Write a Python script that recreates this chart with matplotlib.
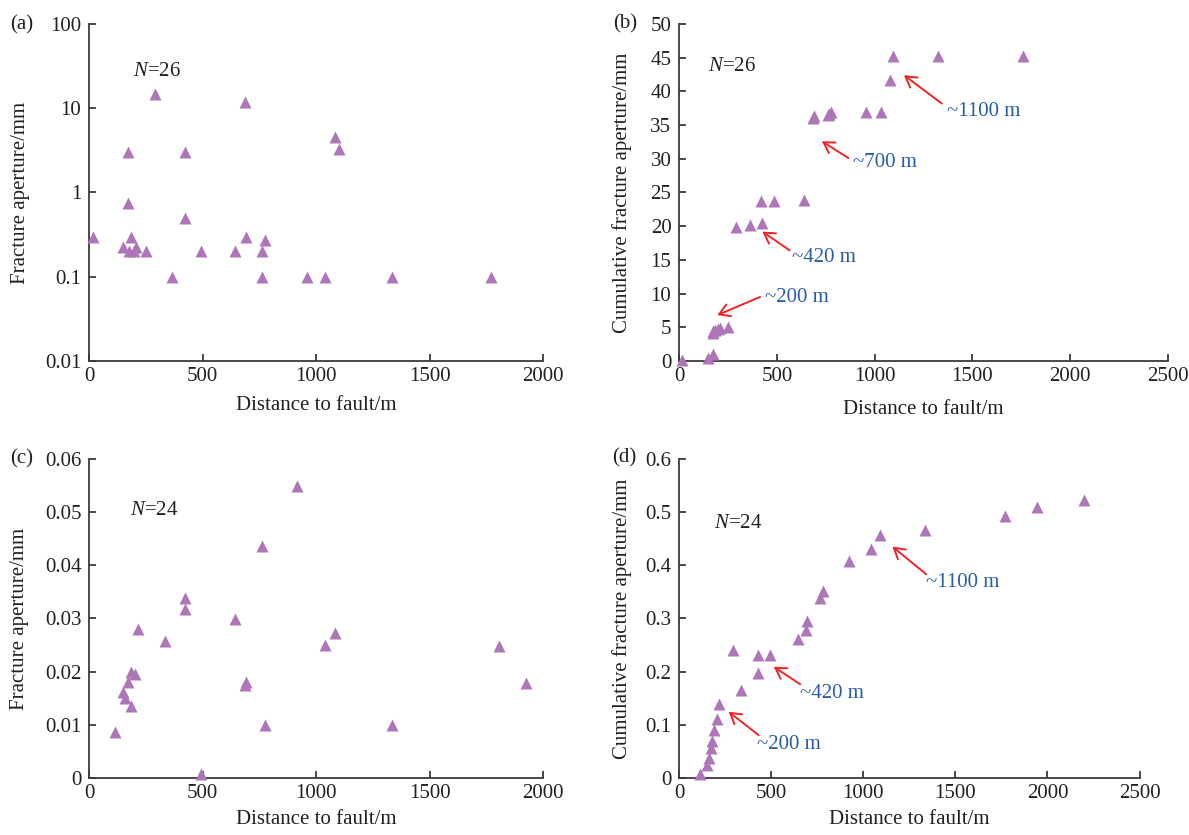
import numpy as np
import matplotlib
matplotlib.use("Agg")
import matplotlib.pyplot as plt
from matplotlib.ticker import FixedLocator, FixedFormatter

plt.rcParams['font.family'] = ['Liberation Serif', 'DejaVu Serif']
plt.rcParams['mathtext.fontset'] = 'custom'
plt.rcParams['mathtext.it'] = 'Liberation Serif:italic'
plt.rcParams['mathtext.rm'] = 'Liberation Serif'
plt.rcParams['font.size'] = 15

# (a) aperture of single fractures, well with 26 fractures
dist_a = [16, 149, 171, 173, 176, 186, 197, 209, 250, 289, 365, 423, 423,
          491, 645, 689, 692, 761, 761, 775, 962, 1039, 1083, 1102, 1333, 1772]
aper_a = [0.3, 0.225, 0.75, 3.0, 0.2, 0.3, 0.2, 0.225, 0.2, 14.7, 0.1, 3.0, 0.5,
          0.2, 0.2, 11.8, 0.3, 0.2, 0.1, 0.27, 0.1, 0.1, 4.6, 3.3, 0.1, 0.1]

# (b) cumulative aperture, same well
dist_b = [17, 150, 175, 173, 176, 186, 197, 209, 252, 290, 363, 423, 418,
          487, 641, 687, 692, 760, 765, 776, 956, 1034, 1079, 1092, 1323, 1757]
cum_b = [0.2, 0.5, 1.1, 4.2, 4.4, 4.6, 4.8, 4.9, 5.0, 19.9, 20.2, 20.5, 23.7,
         23.7, 23.9, 36.0, 36.3, 36.5, 36.7, 37.0, 37.0, 37.0, 41.7, 45.2, 45.2, 45.3]

# (c) aperture of single fractures, well with 24 fractures
dist_c = [115, 149, 160, 173, 184, 186, 204, 217, 335, 423, 423, 491,
          645, 689, 692, 761, 775, 918, 1039, 1083, 1333, 1808, 1925]
aper_c = [0.0087, 0.0162, 0.0151, 0.0180, 0.0136, 0.0200, 0.0196, 0.0280,
          0.0258, 0.0339, 0.0318, 0.0009, 0.0299, 0.0175, 0.0180, 0.0436,
          0.0100, 0.0548, 0.0250, 0.0272, 0.0100, 0.0248, 0.0178]

# (d) cumulative aperture, same well
dist_d = [116, 151, 163, 171, 181, 188, 208, 216, 292, 338, 426, 426, 493,
          648, 691, 695, 765, 779, 924, 1042, 1089, 1338, 1772, 1943, 2198]
cum_d = [0.009, 0.025, 0.0375, 0.0575, 0.070, 0.090, 0.111, 0.139, 0.2415,
         0.165, 0.198, 0.231, 0.231, 0.261, 0.2785, 0.296, 0.339, 0.352,
         0.408, 0.430, 0.457, 0.467, 0.4925, 0.510, 0.5225]

marker_color = '#AE76B8'
text_color = '#231F20'
spine_color = '#3A3A3A'
note_color = '#2A5BAA'
arrow_color = '#F02424'

fig = plt.figure(figsize=(11.89, 8.35), dpi=100)
ax_a = fig.add_axes([0.0749, 0.5677, 0.3818, 0.4036])
ax_b = fig.add_axes([0.5711, 0.5677, 0.4113, 0.4036])
ax_c = fig.add_axes([0.0749, 0.0679, 0.3818, 0.3828])
ax_d = fig.add_axes([0.5711, 0.0679, 0.3873, 0.3828])


def style(ax):
    for s in ['top', 'right']:
        ax.spines[s].set_visible(False)
    for s in ['left', 'bottom']:
        ax.spines[s].set_color(spine_color)
        ax.spines[s].set_linewidth(1.3)
    ax.tick_params(direction='in', length=5, width=1.3, color=spine_color,
                   labelcolor=text_color, labelsize=15)
    ax.tick_params(axis='x', pad=4)
    ax.tick_params(axis='y', pad=5.5)
    ax.minorticks_off()


def scatter(ax, x, y):
    ax.plot(x, y, '^', color=marker_color, ms=8, mec='none',
            clip_on=False, zorder=5)


def note(ax, label, head, tail, pos):
    ax.annotate('', xy=head, xytext=tail,
                arrowprops=dict(arrowstyle='->, head_length=0.5, head_width=0.3',
                                color=arrow_color, lw=1.4, mutation_scale=15,
                                shrinkA=0, shrinkB=0))
    ax.text(pos[0], pos[1], label, color=note_color, fontsize=15,
            ha='left', va='center')


# (a)
scatter(ax_a, dist_a, aper_a)
ax_a.set_yscale('log')
ax_a.set_ylim(0.01, 100)
ax_a.set_xlim(0, 2000)
ax_a.set_xticks([0, 500, 1000, 1500, 2000])
ax_a.yaxis.set_major_locator(FixedLocator([0.01, 0.1, 1, 10, 100]))
ax_a.yaxis.set_major_formatter(FixedFormatter(['0.01', '0.1', '1', '10', '100']))
style(ax_a)
ax_a.set_xlabel('Distance to fault/m', color=text_color)
ax_a.set_ylabel('Fracture aperture/mm', color=text_color)
ax_a.xaxis.set_label_coords(0.5, -0.105)
ax_a.yaxis.set_label_coords(-0.13, 0.5)
ax_a.text(0.096, 0.858, r'$\mathit{N}$=26', transform=ax_a.transAxes,
          color=text_color, va='center')

# (b)
scatter(ax_b, dist_b, cum_b)
ax_b.set_xlim(0, 2500)
ax_b.set_ylim(0, 50)
ax_b.set_xticks(np.arange(0, 2501, 500))
ax_b.set_yticks(np.arange(0, 51, 5))
style(ax_b)
ax_b.set_xlabel('Distance to fault/m', color=text_color)
ax_b.set_ylabel('Cumulative fracture aperture/mm', color=text_color)
ax_b.xaxis.set_label_coords(0.5, -0.115)
ax_b.yaxis.set_label_coords(-0.096, 0.5)
ax_b.text(0.06, 0.874, r'$\mathit{N}$=26', transform=ax_b.transAxes,
          color=text_color, va='center')
note(ax_b, '~200 m', (196, 6.8), (414, 9.5), (440, 9.4))
note(ax_b, '~420 m', (426, 19.2), (566, 16.4), (575, 15.4))
note(ax_b, '~700 m', (730, 32.6), (866, 30.1), (890, 29.5))
note(ax_b, '~1100 m', (1150, 42.4), (1343, 38.2), (1370, 37.0))

# (c)
scatter(ax_c, dist_c, aper_c)
ax_c.set_xlim(0, 2000)
ax_c.set_ylim(0, 0.06)
ax_c.set_xticks([0, 500, 1000, 1500, 2000])
ax_c.yaxis.set_major_locator(FixedLocator([0, 0.01, 0.02, 0.03, 0.04, 0.05, 0.06]))
ax_c.yaxis.set_major_formatter(FixedFormatter(['0', '0.01', '0.02', '0.03', '0.04', '0.05', '0.06']))
style(ax_c)
ax_c.set_xlabel('Distance to fault/m', color=text_color)
ax_c.set_ylabel('Fracture aperture/mm', color=text_color)
ax_c.xaxis.set_label_coords(0.5, -0.1)
ax_c.yaxis.set_label_coords(-0.132, 0.5)
ax_c.text(0.091, 0.839, r'$\mathit{N}$=24', transform=ax_c.transAxes,
          color=text_color, va='center')

# (d)
scatter(ax_d, dist_d, cum_d)
ax_d.set_xlim(0, 2500)
ax_d.set_ylim(0, 0.6)
ax_d.set_xticks(np.arange(0, 2501, 500))
ax_d.yaxis.set_major_locator(FixedLocator([0, 0.1, 0.2, 0.3, 0.4, 0.5, 0.6]))
ax_d.yaxis.set_major_formatter(FixedFormatter(['0', '0.1', '0.2', '0.3', '0.4', '0.5', '0.6']))
style(ax_d)
ax_d.set_xlabel('Distance to fault/m', color=text_color)
ax_d.set_ylabel('Cumulative fracture aperture/mm', color=text_color)
ax_d.xaxis.set_label_coords(0.5, -0.1)
ax_d.yaxis.set_label_coords(-0.102, 0.5)
ax_d.text(0.075, 0.798, r'$\mathit{N}$=24', transform=ax_d.transAxes,
          color=text_color, va='center')
note(ax_d, '~200 m', (269, 0.125), (432, 0.081), (424, 0.064))
note(ax_d, '~420 m', (514, 0.2095), (658, 0.1765), (658, 0.160))
note(ax_d, '~1100 m', (1158, 0.435), (1342, 0.383), (1342, 0.368))

# panel letters
for lbl, px, py in [('(a)', 10, 25), ('(b)', 613, 24), ('(c)', 10, 459), ('(d)', 612, 458)]:
    fig.text(px / 1189, 1 - py / 835, lbl, color=text_color, fontsize=15,
             ha='left', va='center')

fig.savefig('out.png', dpi=100)
